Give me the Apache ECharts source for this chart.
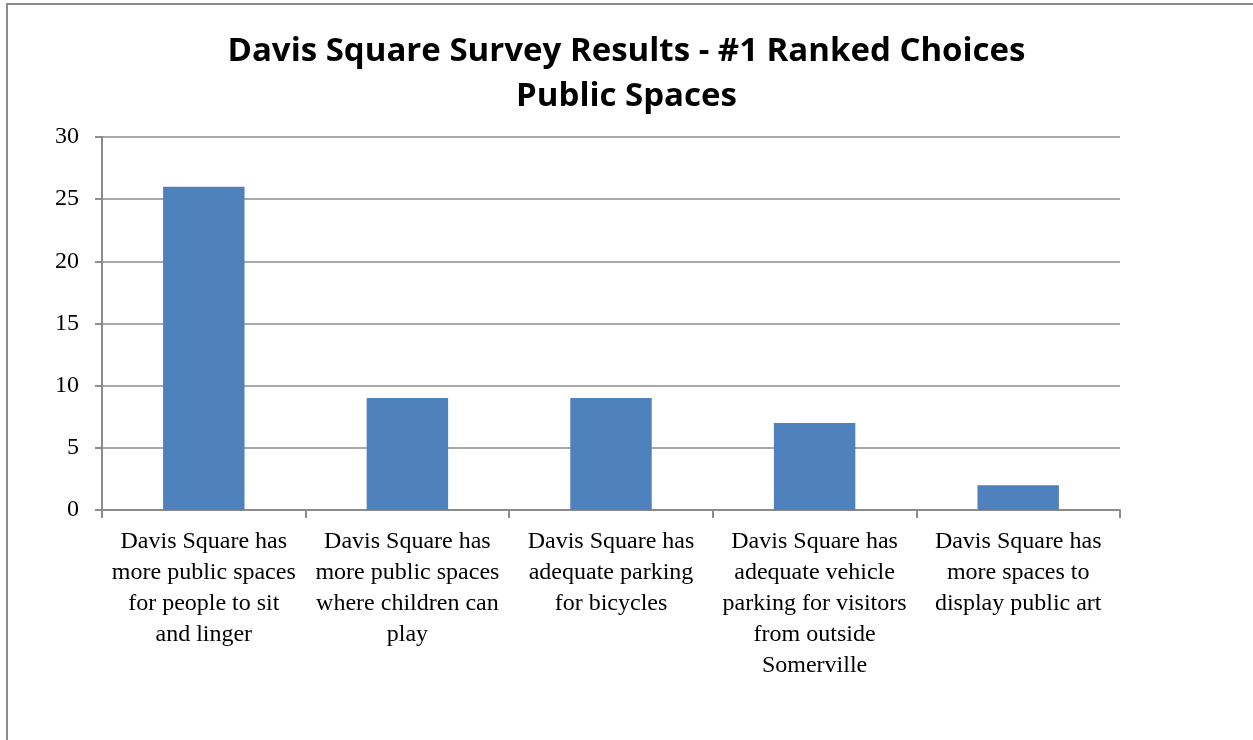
<!DOCTYPE html>
<html>
<head>
<meta charset="utf-8">
<script src="https://cdn.jsdelivr.net/npm/echarts@6/dist/echarts.min.js"></script>
<style>
  html, body { margin: 0; padding: 0; background: #fff; }
  #chart { width: 1253px; height: 740px; }
</style>
</head>
<body>
<div id="chart"></div>
<script>
// category labels keep the original chart's line breaks
const categories = [
  'Davis Square has\nmore public spaces\nfor people to sit\nand linger',
  'Davis Square has\nmore public spaces\nwhere children can\nplay',
  'Davis Square has\nadequate parking\nfor bicycles',
  'Davis Square has\nadequate vehicle\nparking for visitors\nfrom outside\nSomerville',
  'Davis Square has\nmore spaces to\ndisplay public art'
]
const votes = [26, 9, 9, 7, 2]
const titleLines = ['Davis Square Survey Results - #1 Ranked Choices', 'Public Spaces']

const gridLine = '#8c8c8c'
const serif = '"Liberation Serif", "DejaVu Serif", serif'

const chart = echarts.init(document.getElementById('chart'))

chart.setOption({
  backgroundColor: '#fff',
  animation: false,
  graphic: [
    {
      type: 'rect',
      shape: { x: 7, y: 4, width: 1400, height: 900 },
      style: { fill: 'none', stroke: '#8c8c8c', lineWidth: 2 },
      silent: true
    }
  ],
  title: {
    text: titleLines.join('\n'),
    left: 'center',
    top: 24,
    textStyle: {
      fontFamily: '"Open Sans", "Noto Sans", sans-serif',
      fontWeight: 'bold',
      fontSize: 33,
      lineHeight: 45,
      color: '#000'
    }
  },
  grid: { left: 102, right: 133, top: 137, bottom: 230 },
  xAxis: {
    type: 'category',
    data: categories,
    axisLine: { lineStyle: { color: gridLine, width: 2 } },
    axisTick: { show: true, length: 8, lineStyle: { color: gridLine, width: 2 } },
    axisLabel: {
      interval: 0,
      margin: 16,
      fontFamily: serif,
      fontSize: 24,
      lineHeight: 31,
      color: '#000'
    }
  },
  yAxis: {
    type: 'value',
    min: 0,
    max: 30,
    interval: 5,
    axisLine: { show: true, lineStyle: { color: gridLine, width: 2 } },
    axisTick: { show: true, length: 7, lineStyle: { color: gridLine, width: 2 } },
    splitLine: { lineStyle: { color: gridLine, width: 1.5 } },
    axisLabel: {
      margin: 23,
      fontFamily: serif,
      fontSize: 24,
      color: '#000'
    }
  },
  series: [
    {
      type: 'bar',
      data: votes,
      barWidth: '40%',
      itemStyle: { color: '#4f81bd' }
    }
  ]
})
</script>
</body>
</html>
